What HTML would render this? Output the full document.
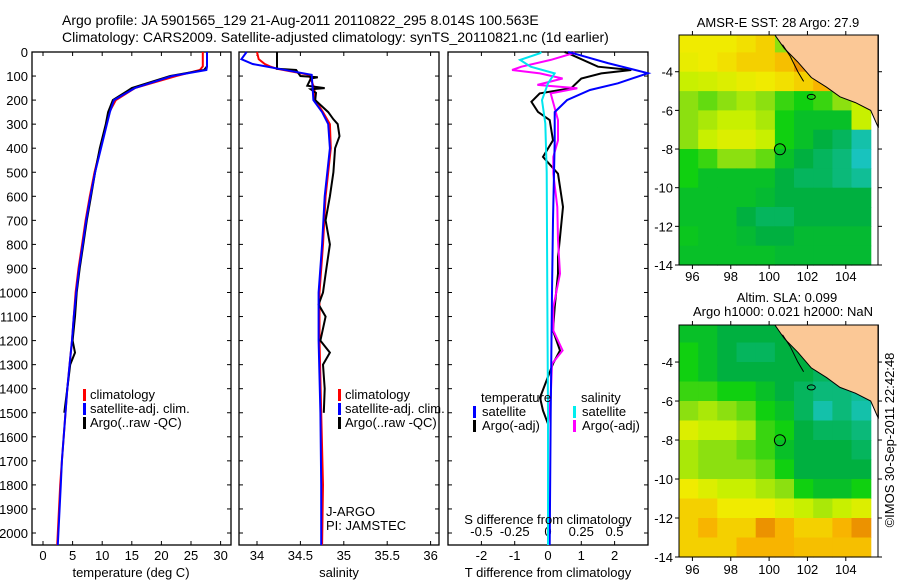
<!DOCTYPE html>
<html><head><meta charset="utf-8">
<style>
html,body{margin:0;padding:0;background:#fff;}
svg{display:block;font-family:"Liberation Sans",sans-serif;}
text{font-size:13px;fill:#000;}
</style></head>
<body>
<svg id="fig" width="900" height="580" viewBox="0 0 900 580" xmlns="http://www.w3.org/2000/svg">
<text x="62" y="25" style="font-size:14px">Argo profile: JA 5901565_129 21-Aug-2011 20110822_295 8.014S 100.563E</text>
<text x="62" y="42" style="font-size:14px">Climatology: CARS2009. Satellite-adjusted climatology: synTS_20110821.nc (1d earlier)</text>
<g id="g1"></g>
<g id="g2"></g>
<g id="g3"></g>
<g id="m1"></g>
<g id="m2"></g>
<text transform="translate(894,440) rotate(-90)" text-anchor="middle">©IMOS 30-Sep-2011 22:42:48</text>
</svg>
<script>
// ---- profile data ----
const depthT=[0,60,75,100,150,200,250,300,400,500,600,700,800,900,1000,1100,1200,1300,1400,1500,1600,1700,1800,1900,2000,2050];
const tClim=[27.0,27.0,26.5,22.5,15.5,12.3,11.2,10.7,9.7,8.7,7.9,7.2,6.6,6.0,5.5,5.2,4.9,4.5,4.1,3.8,3.5,3.2,2.9,2.7,2.5,2.4];
const tSat=[27.7,27.7,27.6,21.8,15.5,12.0,11.3,10.8,9.8,8.8,8.0,7.3,6.7,6.1,5.6,5.2,4.9,4.5,4.1,3.8,3.5,3.2,3.0,2.8,2.6,2.5];
const depthTA=[0,60,75,100,150,200,250,300,400,500,600,700,800,900,1000,1100,1200,1250,1300,1400,1500];
const tArgo=[27.7,27.7,27.2,21.5,15.0,11.8,11.0,10.6,9.6,8.8,8.1,7.4,6.8,6.2,5.7,5.4,5.0,5.4,4.6,4.1,3.6];
const depthS=[0,30,50,60,70,95,150,200,250,300,400,500,600,800,1000,1200,1500,1800,2050];
const sClim=[34.0,34.02,34.09,34.15,34.23,34.6,34.66,34.67,34.76,34.84,34.85,34.82,34.79,34.76,34.72,34.72,34.74,34.76,34.75];
const sSat=[33.88,33.82,33.95,34.1,34.25,34.63,34.64,34.65,34.75,34.82,34.84,34.81,34.78,34.75,34.71,34.71,34.73,34.74,34.74];
const depthSA=[0,70,75,100,105,110,140,150,155,170,200,250,280,300,350,400,500,600,700,800,900,1000,1050,1100,1200,1250,1300,1400,1500];
const sArgo=[34.23,34.23,34.45,34.5,34.7,34.62,34.58,34.78,34.62,34.68,34.67,34.82,34.88,34.93,34.95,34.9,34.88,34.84,34.79,34.84,34.80,34.76,34.71,34.79,34.73,34.84,34.76,34.78,34.77];
const depthDT=[0,5,46,88,130,158,200,250,370,700,1000,1500,2050];
const dTSat=[0.6,0.75,1.8,3.0,2.1,1.26,0.57,0.2,0.2,0.15,0.12,0.08,0.05];
const depthDTA=[0,5,61,75,89,110,137,150,172,207,249,283,367,436,506,644,783,853,922,1061,1158,1241,1296,1437,1491,1546];
const dTArgo=[0.5,0.6,1.5,2.5,1.6,1.0,0.8,0.7,-0.25,-0.5,-0.3,0.05,0.15,-0.15,0.3,0.45,0.35,0.3,0.3,0.2,0.15,0.36,0.15,-0.24,-0.15,0];
const depthDS=[0,5,33,61,89,130,200,297,500,1000,1500,2050];
const dSSat=[-0.05,-0.06,-0.21,-0.13,0.05,0,-0.045,-0.02,-0.01,-0.005,0,0];
const depthDSA=[0,5,33,61,75,89,110,137,151,172,283,367,436,506,644,783,922,1061,1158,1241,1296,1437,1546];
const dSArgo=[0.2,0.19,0.02,-0.2,-0.27,-0.06,0.11,-0.08,0.22,0.02,0.075,0.075,0.04,0.04,0.07,0.075,0.09,0.04,0.04,0.11,0.03,0.02,0];
const depthTicks=[0,100,200,300,400,500,600,700,800,900,1000,1100,1200,1300,1400,1500,1600,1700,1800,1900,2000];
const tTicks=[0,5,10,15,20,25,30];
const sTicks=[34,34.5,35,35.5,36];
const dTTicks=[-2,-1,0,1,2];
const dSTicks=[-0.5,-0.25,0,0.25,0.5];
// ---- map data (value 0..1 on colour scale, rows from north to south, 1-degree cells) ----
const mapLons=[95.3,96.3,97.3,98.3,99.3,100.3,101.3,102.3,103.3,104.3,105.3];
const mapLats=[-2.1,-3,-4,-5,-6,-7,-8,-9,-10,-11,-12,-13,-14];
const sstGrid=[
[0.8,0.8,0.8,0.82,0.85,0.6,0.9,0.9,0.9,0.9],
[0.78,0.8,0.82,0.85,0.85,0.88,0.95,0.9,0.9,0.9],
[0.7,0.72,0.75,0.78,0.8,0.82,0.85,0.9,0.9,0.9],
[0.6,0.55,0.6,0.65,0.6,0.5,0.45,0.5,0.6,0.7],
[0.6,0.65,0.7,0.7,0.65,0.45,0.4,0.4,0.4,0.7],
[0.6,0.7,0.75,0.75,0.7,0.45,0.4,0.35,0.3,0.15],
[0.45,0.5,0.6,0.6,0.55,0.4,0.35,0.3,0.25,0.1],
[0.45,0.4,0.4,0.4,0.4,0.35,0.3,0.3,0.25,0.2],
[0.4,0.4,0.4,0.4,0.38,0.35,0.35,0.35,0.35,0.35],
[0.4,0.4,0.4,0.35,0.3,0.3,0.35,0.35,0.35,0.35],
[0.42,0.4,0.4,0.38,0.35,0.35,0.38,0.38,0.38,0.38],
[0.4,0.4,0.4,0.4,0.4,0.38,0.38,0.38,0.38,0.38]];
const slaGrid=[
[0.4,0.4,0.35,0.35,0.35,0.35,0.35,0.35,0.35,0.35],
[0.45,0.4,0.35,0.3,0.3,0.35,0.35,0.35,0.35,0.35],
[0.45,0.4,0.35,0.35,0.35,0.35,0.35,0.3,0.3,0.3],
[0.5,0.5,0.45,0.45,0.4,0.35,0.3,0.25,0.25,0.2],
[0.6,0.65,0.6,0.55,0.45,0.4,0.3,0.15,0.25,0.15],
[0.75,0.7,0.7,0.65,0.5,0.45,0.35,0.3,0.3,0.25],
[0.65,0.6,0.6,0.55,0.5,0.4,0.35,0.35,0.35,0.3],
[0.65,0.6,0.6,0.6,0.55,0.45,0.35,0.35,0.35,0.35],
[0.8,0.75,0.7,0.7,0.65,0.6,0.45,0.4,0.4,0.45],
[0.85,0.85,0.8,0.8,0.8,0.75,0.7,0.65,0.7,0.75],
[0.85,0.9,0.85,0.85,0.95,0.9,0.85,0.85,0.9,0.95],
[0.85,0.85,0.85,0.9,0.9,0.9,0.88,0.88,0.88,0.88]];
const landLon=[100.3,100.8,101.5,102.2,103.0,103.7,104.5,105.3,105.7,105.7];
const landLat=[-2.1,-2.8,-3.5,-4.3,-4.8,-5.3,-5.6,-6.0,-6.9,-2.1];
const argoLon=100.563, argoLat=-8.014;

const NS="http://www.w3.org/2000/svg";
function mk(p,tag,at){const e=document.createElementNS(NS,tag);for(const k in at)e.setAttribute(k,at[k]);p.appendChild(e);return e;}
function txt(p,x,y,s,anchor){const t=mk(p,'text',{x:x,y:y,'text-anchor':anchor||'start'});t.textContent=s;return t;}
const Y0=52,Y1=545;
const yD=d=>Y0+d*0.2405;
function line(g,xs,ds,xf,col,name){
  const pts=xs.map((v,i)=>xf(v).toFixed(1)+','+yD(ds[i]).toFixed(1)).join(' ');
  const pl=mk(g,'polyline',{points:pts,fill:'none',stroke:col,'stroke-width':2});
  
  
}
function frame(g,x0,x1,name){
  const r=mk(g,'rect',{x:x0,y:Y0,width:x1-x0,height:Y1-Y0,fill:'none',stroke:'#000','stroke-width':1.3});
  
  
}
function xticks(g,vals,xf,labY,fmt,top){
  vals.forEach(v=>{const x=xf(v);
    mk(g,'line',{x1:x,x2:x,y1:Y1,y2:Y1-4,stroke:'#000'});
    if(top) mk(g,'line',{x1:x,x2:x,y1:Y0,y2:Y0+4,stroke:'#000'});
    if(labY){const t=txt(g,x,labY,fmt?fmt(v):String(v),'middle');
      
      }
  });
}
function legendMark(g,x,y,col){mk(g,'rect',{x:x,y:y-10,width:3,height:12,fill:col});}

// Panel 1
const g1=document.getElementById('g1');
const xT=t=>43+t*5.92;
frame(g1,32,231,'temperature-axes');
depthTicks.forEach(d=>{const y=yD(d);
  mk(g1,'line',{x1:32,x2:36,y1:y,y2:y,stroke:'#000'});mk(g1,'line',{x1:227,x2:231,y1:y,y2:y,stroke:'#000'});
  const t=txt(g1,28,y+5,String(d),'end');
  
  
});
xticks(g1,tTicks,xT,560,null,true);
line(g1,tClim,depthT,xT,'#ff0000','temp-climatology-line');
line(g1,tArgo,depthTA,xT,'#000','temp-argo-line');
line(g1,tSat,depthT,xT,'#0000ff','temp-satellite-line');
txt(g1,131,577,'temperature (deg C)','middle');
[['climatology','#f00'],['satellite-adj. clim.','#00f'],['Argo(..raw -QC)','#000']].forEach((l,i)=>{
  legendMark(g1,83,399+i*14,l[1]);const t=txt(g1,90,399+i*14,l[0]);
  
  
});

// Panel 2
const g2=document.getElementById('g2');
const xS=s=>257+(s-34)*86.8;
frame(g2,239,439,'salinity-axes');
depthTicks.forEach(d=>{const y=yD(d);mk(g2,'line',{x1:239,x2:243,y1:y,y2:y,stroke:'#000'});mk(g2,'line',{x1:435,x2:439,y1:y,y2:y,stroke:'#000'});});
xticks(g2,sTicks,xS,560,null,true);
line(g2,sClim,depthS,xS,'#ff0000','sal-climatology-line');
line(g2,sArgo,depthSA,xS,'#000','sal-argo-line');
line(g2,sSat,depthS,xS,'#0000ff','sal-satellite-line');
txt(g2,339,577,'salinity','middle');
[['climatology','#f00'],['satellite-adj. clim.','#00f'],['Argo(..raw -QC)','#000']].forEach((l,i)=>{
  legendMark(g2,338,399+i*14,l[1]);const t=txt(g2,345,399+i*14,l[0]);
  
  
});
txt(g2,326,516,'J-ARGO');txt(g2,326,530,'PI: JAMSTEC');

// Panel 3
const g3=document.getElementById('g3');
const xDT=v=>548+v*33.3, xDS=v=>548+v*133;
frame(g3,448,648,'difference-axes');
depthTicks.forEach(d=>{const y=yD(d);mk(g3,'line',{x1:448,x2:452,y1:y,y2:y,stroke:'#000'});mk(g3,'line',{x1:644,x2:648,y1:y,y2:y,stroke:'#000'});});
xticks(g3,dTTicks,xDT,560,null,false);
dSTicks.forEach(v=>{const t=txt(g3,xDS(v),536,String(v),'middle');
  
  });
[-3,-2,-1,0,1,2,3].forEach(v=>{const x=xDT(v);if(x>448&&x<648)mk(g3,'line',{x1:x,x2:x,y1:Y0,y2:Y0+4,stroke:'#000'});});
line(g3,dTArgo,depthDTA,xDT,'#000','t-diff-argo-line');
line(g3,dSArgo,depthDSA,xDS,'#ff00ff','s-diff-argo-line');
line(g3,dTSat,depthDT,xDT,'#0000ff','t-diff-satellite-line');
line(g3,dSSat,depthDS,xDS,'#00e5ee','s-diff-satellite-line');
txt(g3,548,524,'S difference from climatology','middle');
txt(g3,548,577,'T difference from climatology','middle');
txt(g3,481,402,'temperature');txt(g3,581,402,'salinity');
[['satellite','#00f',473],['Argo(-adj)','#000',473],['satellite','#0ee',573],['Argo(-adj)','#f0f',573]].forEach((l,i)=>{
  const y=416+(i%2)*14;legendMark(g3,l[2],y,l[1]);const t=txt(g3,l[2]+9,y,l[0]);
  
  
});

// Maps
const stops=[[0,[32,200,230]],[0.2,[16,190,150]],[0.35,[0,176,64]],[0.45,[16,208,16]],[0.6,[140,224,16]],[0.7,[200,240,0]],[0.8,[240,235,0]],[0.9,[248,180,0]],[1,[224,112,0]]];
function col(v){for(let i=1;i<stops.length;i++){if(v<=stops[i][0]){const a=stops[i-1],b=stops[i],f=(v-a[0])/(b[0]-a[0]);
  return 'rgb('+a[1].map((c,k)=>Math.round(c+(b[1][k]-c)*f)).join(',')+')';}}return 'rgb(224,112,0)';}
function drawMap(id,grid,y0,y1,title,extraTitle,labY,gname){
  const g=document.getElementById(id);
  const x0=679,x1=878,lon0=95.3,lon1=105.68,lat0=-2.1,lat1=-14;
  const px=lon=>x0+(lon-lon0)/(lon1-lon0)*(x1-x0);
  const py=lat=>y0+(lat-lat0)/(lat1-lat0)*(y1-y0);
  grid.forEach((row,r)=>row.forEach((v,c)=>{
    const rc=mk(g,'rect',{x:px(mapLons[c]).toFixed(1),y:py(mapLats[r]).toFixed(1),
      width:(px(mapLons[c+1])-px(mapLons[c])+0.6).toFixed(1),height:(py(mapLats[r+1])-py(mapLats[r])+0.6).toFixed(1),fill:col(v)});
    
    
  }));
  const land=mk(g,'polygon',{points:landLon.map((l,i)=>px(l).toFixed(1)+','+py(landLat[i]).toFixed(1)).join(' '),fill:'#fbc896',stroke:'#000','stroke-width':1});
  
  
  mk(g,'ellipse',{cx:px(102.2),cy:py(-5.3),rx:4,ry:2.5,fill:'none',stroke:'#000'});
  mk(g,'polyline',{points:[[100.7,-2.6],[101.1,-3.2],[101.5,-4.0],[101.8,-4.5]].map(p=>px(p[0])+','+py(p[1])).join(' '),fill:'none',stroke:'#000'});
  const pt=mk(g,'circle',{cx:px(argoLon),cy:py(argoLat),r:5.5,fill:'none',stroke:'#000'});
  
  
  mk(g,'rect',{x:x0,y:y0,width:x1-x0,height:y1-y0,fill:'none',stroke:'#000'});
  [-4,-6,-8,-10,-12,-14].forEach(l=>{const y=py(l);mk(g,'line',{x1:x0-4,x2:x0,y1:y,y2:y,stroke:'#000'});mk(g,'line',{x1:x1,x2:x1+4,y1:y,y2:y,stroke:'#000'});
    txt(g,673,y+5,String(l),'end');});
  [96,98,100,102,104].forEach(l=>{const x=px(l);mk(g,'line',{x1:x,x2:x,y1:y1,y2:y1+4,stroke:'#000'});mk(g,'line',{x1:x,x2:x,y1:y0-4,y2:y0,stroke:'#000'});
    txt(g,x,labY,String(l),'middle');});
  title.forEach((t,i)=>txt(g,t[1],t[2],t[0],'middle'));
}
drawMap('m1',sstGrid,35,265,[['AMSR-E SST: 28 Argo: 27.9',778,27]],null,281,'sst');
drawMap('m2',slaGrid,325,557,[['Altim. SLA: 0.099',787,302],['Argo h1000: 0.021 h2000: NaN',783,316]],null,574,'sla');
</script>
</body></html>
